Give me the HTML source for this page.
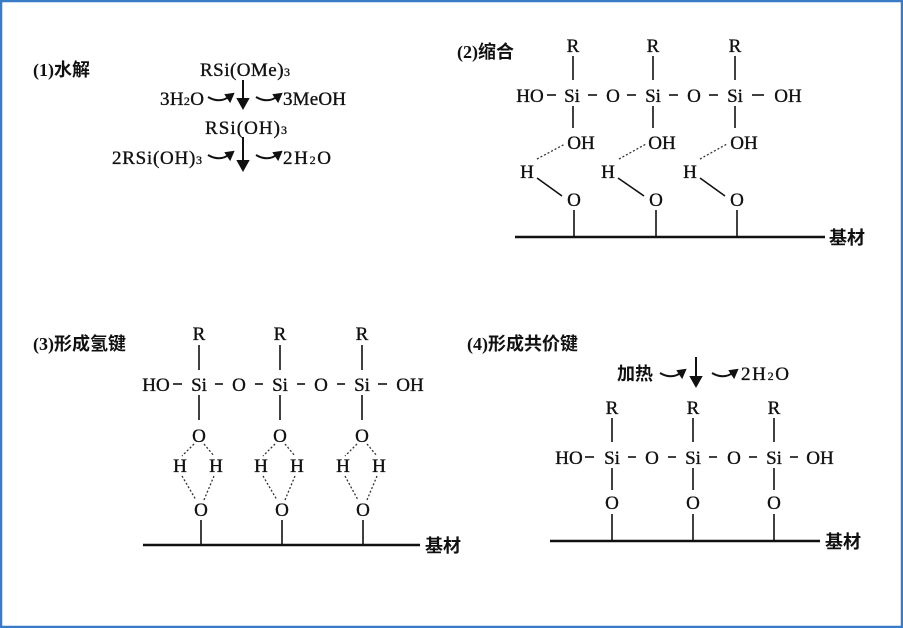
<!DOCTYPE html>
<html><head><meta charset="utf-8"><style>
html,body{margin:0;padding:0;background:#fff}
svg{display:block}
text{font-family:"Liberation Serif","Noto Serif CJK SC",serif;font-size:19px;fill:#111;stroke:#111;stroke-width:0.35}
.c{font-family:"Liberation Serif","Noto Sans CJK SC",sans-serif;font-weight:bold;font-size:18px;stroke-width:0}
</style></head><body>
<svg width="903" height="628" viewBox="0 0 903 628" xmlns="http://www.w3.org/2000/svg">
<rect x="1" y="1" width="901" height="626" fill="#fff" stroke="#3a7bc8" stroke-width="2.5"/>
<g stroke="#111" fill="none" stroke-width="2">
<line x1="243" y1="80" x2="243" y2="100"/><path d="M238,99 L243,108 L248,99 Z" fill="#111"/>
<line x1="243" y1="137" x2="243" y2="162"/><path d="M238,161 L243,170 L248,161 Z" fill="#111"/>
<path d="M208,97 Q220,104 230,96"/><path d="M226,95 L233,94 L230,101Z" fill="#111"/>
<path d="M256,97 Q268,104 278,96"/><path d="M274,95 L281,94 L278,101Z" fill="#111"/>
<path d="M208,155 Q220,162 230,154"/><path d="M226,153 L233,152 L230,159Z" fill="#111"/>
<path d="M256,155 Q268,162 278,154"/><path d="M274,153 L281,152 L278,159Z" fill="#111"/>
<line x1="696" y1="357" x2="696" y2="378"/><path d="M691,377 L696,386 L701,377 Z" fill="#111"/>
<path d="M660,373 Q672,380 682,372"/><path d="M678,371 L685,370 L682,377Z" fill="#111"/>
<path d="M712,373 Q724,380 734,372"/><path d="M730,371 L737,370 L734,377Z" fill="#111"/>
</g>
<text x="33" y="76" class="c">(1)水解</text>
<text x="245" y="76" text-anchor="middle" textLength="90">RSi(OMe)<tspan font-size="12">3</tspan></text>
<text x="160" y="105" textLength="44">3H<tspan font-size="12">2</tspan>O</text>
<text x="283" y="105" textLength="63">3MeOH</text>
<text x="246" y="134" text-anchor="middle" textLength="82">RSi(OH)<tspan font-size="12">3</tspan></text>
<text x="112" y="164" textLength="90">2RSi(OH)<tspan font-size="12">3</tspan></text>
<text x="283" y="164" textLength="48">2H<tspan font-size="12">2</tspan>O</text>

<text x="457" y="58" class="c">(2)缩合</text>
<g text-anchor="middle">
<text x="573" y="52">R</text><text x="653" y="52">R</text><text x="735" y="52">R</text>
<text x="530" y="102">HO</text><text x="572" y="102">Si</text><text x="613" y="102">O</text><text x="653" y="102">Si</text><text x="694" y="102">O</text><text x="735" y="102">Si</text><text x="788" y="102">OH</text>
<text x="581" y="149">OH</text><text x="662" y="149">OH</text><text x="744" y="149">OH</text>
<text x="527" y="178">H</text><text x="608" y="178">H</text><text x="690" y="178">H</text>
<text x="574" y="206">O</text><text x="656" y="206">O</text><text x="737" y="206">O</text>
</g>
<g stroke="#111" stroke-width="1.6">
<line x1="573" y1="56" x2="573" y2="80"/><line x1="653" y1="56" x2="653" y2="80"/><line x1="735" y1="56" x2="735" y2="80"/>
<line x1="573" y1="106" x2="573" y2="128"/><line x1="653" y1="106" x2="653" y2="128"/><line x1="735" y1="106" x2="735" y2="128"/>
<line x1="547" y1="95" x2="556" y2="95"/><line x1="588" y1="95" x2="597" y2="95"/><line x1="627" y1="95" x2="636" y2="95"/><line x1="669" y1="95" x2="678" y2="95"/><line x1="709" y1="95" x2="718" y2="95"/><line x1="752" y1="95" x2="764" y2="95"/>
<line x1="537" y1="178" x2="562" y2="196"/><line x1="618" y1="178" x2="644" y2="196"/><line x1="700" y1="178" x2="725" y2="196"/>
<line x1="574" y1="210" x2="574" y2="236"/><line x1="656" y1="210" x2="656" y2="236"/><line x1="737" y1="210" x2="737" y2="236"/>
<line x1="515" y1="237" x2="825" y2="237" stroke-width="2.5"/>
</g>
<g stroke="#333" stroke-width="1.3" stroke-dasharray="2,2">
<line x1="537" y1="159" x2="565" y2="144"/><line x1="619" y1="159" x2="646" y2="144"/><line x1="700" y1="159" x2="727" y2="144"/>
</g>
<text x="829" y="244" class="c">基材</text>

<text x="33" y="350" class="c">(3)形成氢键</text>
<g text-anchor="middle">
<text x="199" y="340">R</text><text x="280" y="340">R</text><text x="362" y="340">R</text>
<text x="156" y="391">HO</text><text x="199" y="391">Si</text><text x="239" y="391">O</text><text x="280" y="391">Si</text><text x="321" y="391">O</text><text x="362" y="391">Si</text><text x="410" y="391">OH</text>
<text x="199" y="442">O</text><text x="280" y="442">O</text><text x="362" y="442">O</text>
<text x="180" y="472">H</text><text x="216" y="472">H</text><text x="261" y="472">H</text><text x="297" y="472">H</text><text x="343" y="472">H</text><text x="379" y="472">H</text>
<text x="201" y="516">O</text><text x="282" y="516">O</text><text x="363" y="516">O</text>
</g>
<g stroke="#111" stroke-width="1.6">
<line x1="199" y1="345" x2="199" y2="370"/><line x1="280" y1="345" x2="280" y2="370"/><line x1="362" y1="345" x2="362" y2="370"/>
<line x1="199" y1="395" x2="199" y2="420"/><line x1="280" y1="395" x2="280" y2="420"/><line x1="362" y1="395" x2="362" y2="420"/>
<line x1="173" y1="384" x2="182" y2="384"/><line x1="215" y1="384" x2="223" y2="384"/><line x1="255" y1="384" x2="263" y2="384"/><line x1="297" y1="384" x2="305" y2="384"/><line x1="337" y1="384" x2="345" y2="384"/><line x1="378" y1="384" x2="387" y2="384"/>
<line x1="201" y1="520" x2="201" y2="545"/><line x1="282" y1="520" x2="282" y2="545"/><line x1="363" y1="520" x2="363" y2="545"/>
<line x1="143" y1="545" x2="420" y2="545" stroke-width="2.5"/>
</g>
<g stroke="#333" stroke-width="1.3" stroke-dasharray="2,2">
<path d="M194,444 L182,456 M204,444 L214,456 M182,476 L196,500 M214,476 L204,500"/>
<path d="M275,444 L263,456 M285,444 L295,456 M263,476 L277,500 M295,476 L285,500"/>
<path d="M357,444 L345,456 M367,444 L377,456 M345,476 L358,500 M377,476 L367,500"/>
</g>
<text x="425" y="552" class="c">基材</text>

<text x="467" y="350" class="c">(4)形成共价键</text>
<text x="617" y="380" class="c">加热</text>
<text x="741" y="380" textLength="48">2H<tspan font-size="12">2</tspan>O</text>
<g text-anchor="middle">
<text x="612" y="414">R</text><text x="693" y="414">R</text><text x="774" y="414">R</text>
<text x="569" y="464">HO</text><text x="612" y="464">Si</text><text x="652" y="464">O</text><text x="693" y="464">Si</text><text x="734" y="464">O</text><text x="774" y="464">Si</text><text x="820" y="464">OH</text>
<text x="612" y="509">O</text><text x="693" y="509">O</text><text x="774" y="509">O</text>
</g>
<g stroke="#111" stroke-width="1.6">
<line x1="612" y1="418" x2="612" y2="442"/><line x1="693" y1="418" x2="693" y2="442"/><line x1="774" y1="418" x2="774" y2="442"/>
<line x1="612" y1="468" x2="612" y2="490"/><line x1="693" y1="468" x2="693" y2="490"/><line x1="774" y1="468" x2="774" y2="490"/>
<line x1="585" y1="457" x2="594" y2="457"/><line x1="628" y1="457" x2="636" y2="457"/><line x1="668" y1="457" x2="676" y2="457"/><line x1="709" y1="457" x2="717" y2="457"/><line x1="749" y1="457" x2="757" y2="457"/><line x1="790" y1="457" x2="798" y2="457"/>
<line x1="612" y1="514" x2="612" y2="540"/><line x1="693" y1="514" x2="693" y2="540"/><line x1="774" y1="514" x2="774" y2="540"/>
<line x1="550" y1="541" x2="820" y2="541" stroke-width="2.5"/>
</g>
<text x="825" y="548" class="c">基材</text>
</svg>
</body></html>
